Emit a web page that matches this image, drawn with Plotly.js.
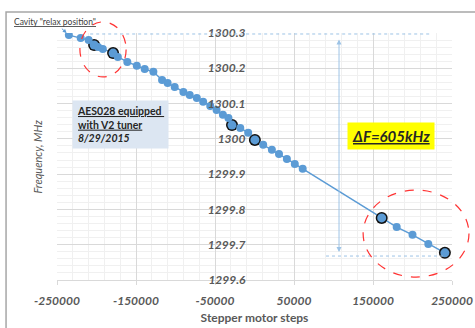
<!DOCTYPE html>
<html>
<head>
<meta charset="utf-8">
<script src="https://cdn.plot.ly/plotly-3.0.1.min.js"></script>
<style>html,body{margin:0;padding:0;background:#fff;}#chart{width:475px;height:328px;}</style>
</head>
<body>
<div id="chart"></div>
<script>
// Blue measurement points (stepper motor steps vs frequency, MHz)
const steps = [-235000, -220000, -210000, -198000, -192000, -173000, -161000, -149000, -139000, -128000,
  -117000, -110000, -101000, -90000, -82000, -73000, -65000, -56000, -48000, -40000, -33000,
  -18000, -8000, 11000, 22000, 31000, 41000, 51000, 61000, 180000, 200000, 220000];
const freq = [1300.294, 1300.286, 1300.280, 1300.260, 1300.255, 1300.232, 1300.218, 1300.207, 1300.198, 1300.190,
  1300.167, 1300.158, 1300.147, 1300.133, 1300.124, 1300.116, 1300.105, 1300.093, 1300.082, 1300.068, 1300.059,
  1300.031, 1300.017, 1299.983, 1299.969, 1299.957, 1299.943, 1299.929, 1299.915, 1299.750, 1299.728, 1299.702];
// Highlighted points (black-rimmed)
const markSteps = [-203000, -179000, -28500, 500, 161000, 241000];
const markFreq = [1300.266, 1300.243, 1300.039, 1299.997, 1299.776, 1299.677];
// Tick labels
const xTicks = [-250000, -150000, -50000, 50000, 150000, 250000];
const xTickText = ['-250000', '-150000', '-50000', '50000', '150000', '250000'];
const yTicks = [1299.6, 1299.7, 1299.8, 1299.9, 1300, 1300.1, 1300.2, 1300.3];
const yTickText = ['1299.6', '1299.7', '1299.8', '1299.9', '1300', '1300.1', '1300.2', '1300.3'];

// line through all points in step order
const all = steps.map((s, i) => [s, freq[i]]).concat(markSteps.map((s, i) => [s, markFreq[i]]))
  .sort((a, b) => a[0] - b[0]);

const blue = '#5b9bd5';
const tickFont = {family: 'Lato, sans-serif', size: 12, color: '#595959', weight: 'bold', style: 'italic'};

const traces = [
  {x: all.map(p => p[0]), y: all.map(p => p[1]), mode: 'lines', line: {color: blue, width: 1.5},
   hoverinfo: 'skip', showlegend: false},
  {x: markSteps, y: markFreq, mode: 'markers', marker: {color: '#111', size: 12}, showlegend: false},
  {x: steps, y: freq, mode: 'markers', marker: {color: blue, size: 8}, showlegend: false},
  {x: markSteps, y: markFreq, mode: 'markers', marker: {color: blue, size: 9}, showlegend: false}
];

const layout = {
  width: 475, height: 328,
  margin: {l: 57, r: 23, t: 33, b: 48},
  paper_bgcolor: '#fff', plot_bgcolor: '#fff',
  showlegend: false,
  xaxis: {
    range: [-250000, 250000], tickmode: 'array', tickvals: xTicks, ticktext: xTickText,
    showgrid: true, gridcolor: '#d9d9d9', gridwidth: 1, zeroline: false,
    showline: true, linecolor: '#d9d9d9', ticks: 'outside', ticklen: 4, tickcolor: '#d9d9d9',
    tickfont: tickFont, ticklabelstandoff: 6,
    minor: {dtick: 20000, tick0: -250000, showgrid: true, gridcolor: '#f0f0f0', ticks: ''},
    title: {text: 'Stepper motor steps', font: {family: 'Lato, sans-serif', size: 12, color: '#595959', weight: 'bold'}, standoff: 6}
  },
  yaxis: {
    range: [1299.6, 1300.3], tickmode: 'array', tickvals: yTicks, ticktext: yTickText,
    anchor: 'free', position: 0.5,
    showgrid: true, gridcolor: '#d9d9d9', zeroline: false, showline: false, ticks: '',
    tickfont: tickFont, ticklabelstandoff: 9,
    minor: {dtick: 0.02, tick0: 1299.6, showgrid: true, gridcolor: '#f0f0f0', ticks: ''}
  },
  shapes: [
    // outer chart frame
    {type: 'rect', xref: 'paper', yref: 'paper', x0: -0.129, x1: 1.2, y0: -0.3, y1: 1.085,
     line: {color: '#a6a6a6', width: 1.5}},
    // dotted level lines
    {type: 'line', xref: 'paper', yref: 'paper', x0: 0.084, x1: 0.944, y0: 0.996, y1: 0.996,
     line: {color: '#9dc3e6', width: 1, dash: 'dot'}},
    {type: 'line', xref: 'paper', yref: 'paper', x0: 0.681, x1: 0.977, y0: 0.097, y1: 0.097,
     line: {color: '#9dc3e6', width: 1, dash: 'dot'}},
    // red dashed ellipses
    {type: 'circle', xref: 'paper', yref: 'paper', x0: 0.058, x1: 0.175, y0: 0.822, y1: 1.045,
     line: {color: '#ff3333', width: 1.2, dash: 'dash'}},
    {type: 'circle', xref: 'paper', yref: 'paper', x0: 0.775, x1: 1.043, y0: 0.012, y1: 0.364,
     line: {color: '#ff3333', width: 1.2, dash: 'dash'}}
  ],
  annotations: [
    {x: steps[0], y: freq[0], xref: 'x', yref: 'y', ax: -14, ay: -13, axref: 'pixel', ayref: 'pixel',
     text: '<u>Cavity "relax position"</u>', showarrow: true, arrowhead: 2, arrowsize: 0.8, arrowwidth: 1,
     arrowcolor: blue, standoff: 3, font: {family: 'Lato, sans-serif', size: 8.5, color: '#404040'}},
    {xref: 'paper', yref: 'paper', x: 0.714, y: 0.113, ax: 0, ay: -214, axref: 'pixel', ayref: 'pixel',
     text: '', showarrow: true, arrowside: 'end+start', arrowhead: 2, arrowsize: 1, arrowwidth: 1,
     arrowcolor: '#9dc3e6'},
    {xref: 'paper', yref: 'paper', x: 0.038, y: 0.728, xanchor: 'left', yanchor: 'top', align: 'left',
     text: '<u>AES028 equipped </u><br><u>with V2 tuner</u><br><i>8/29/2015</i>', showarrow: false,
     bgcolor: '#dce6f2', borderpad: 4,
     font: {family: 'Lato, sans-serif', size: 10.5, color: '#262626', weight: 'bold'}},
    {xref: 'paper', yref: 'paper', x: 0.734, y: 0.640, xanchor: 'left', yanchor: 'top',
     text: '<u>ΔF=605kHz</u>', showarrow: false, bgcolor: '#ffff00', borderpad: 4,
     font: {family: 'Lato, sans-serif', size: 15, color: '#262626', weight: 'bold', style: 'italic'}},
    {xref: 'paper', yref: 'paper', x: -0.071, y: 0.502, textangle: -90, showarrow: false,
     text: 'Frequency, MHz', font: {family: 'Lato, sans-serif', size: 11, color: '#595959', style: 'italic'}}
  ]
};

Plotly.newPlot('chart', traces, layout, {displayModeBar: false, staticPlot: true});
</script>
</body>
</html>
